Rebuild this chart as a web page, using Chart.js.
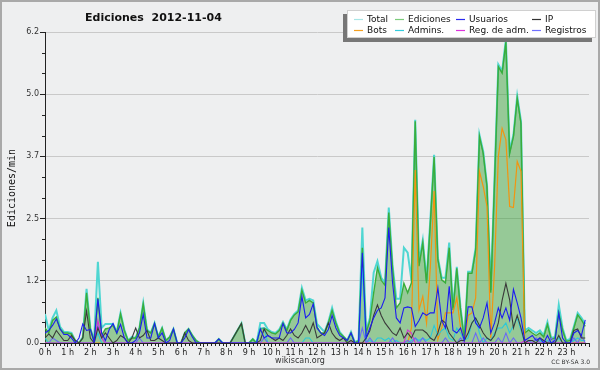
<!DOCTYPE html>
<html>
<head>
<meta charset="utf-8">
<script src="https://cdn.jsdelivr.net/npm/chart.js@4.4.1/dist/chart.umd.min.js"></script>
<style>
  html, body { margin: 0; padding: 0; background: #eeeff0; }
  #wrap { width: 600px; height: 370px; box-sizing: border-box; border: 2px solid #a9a9a9; background: #eeeff0; }
  canvas { display: block; }
</style>
</head>
<body>
<div id="wrap"><canvas id="c" width="596" height="366"></canvas></div>
<script>
// ---- data (edits per minute, 10-minute slots, 6 per hour) ----
const HOUR_LABELS = ['0 h','1 h','2 h','3 h','4 h','5 h','6 h','7 h','8 h','9 h','10 h','11 h',
  '12 h','13 h','14 h','15 h','16 h','17 h','18 h','19 h','20 h','21 h','22 h','23 h'];
const Y_TICKS = [0, 1.24, 2.48, 3.72, 4.96, 6.2];

const TOTAL = [
  0.58,0.25,0.50,0.65,0.32,0.22, 0.22,0.20,0.05,0.00,0.12,1.08,
  0.30,0.06,1.62,0.30,0.38,0.38, 0.38,0.22,0.60,0.27,0.05,0.12,
  0.10,0.30,0.80,0.27,0.20,0.40, 0.12,0.30,0.05,0.12,0.28,0.00,
  0.00,0.20,0.28,0.15,0.05,0.00, 0.00,0.00,0.00,0.00,0.08,0.00,
  0.00,0.00,0.13,0.26,0.39,0.00, 0.00,0.08,0.00,0.40,0.40,0.27,
  0.22,0.20,0.27,0.42,0.27,0.47, 0.58,0.65,1.10,0.85,0.88,0.85,
  0.38,0.30,0.22,0.42,0.70,0.42, 0.22,0.13,0.05,0.22,0.02,0.05,
  2.30,0.25,0.50,1.40,1.63,1.30, 1.20,2.70,1.55,0.88,0.88,1.90,
  1.80,1.25,4.45,1.60,2.05,1.25, 2.45,3.75,1.70,1.30,1.30,2.00,
  0.70,1.52,0.70,0.10,1.42,1.42, 1.90,4.15,3.82,3.15,1.05,3.30,
  5.55,5.42,6.05,3.82,4.15,4.92, 4.42,0.25,0.30,0.25,0.20,0.25,
  0.15,0.42,0.10,0.12,0.76,0.30, 0.05,0.08,0.33,0.60,0.50,0.38
];
const EDICIONES = [
  0.30,0.20,0.45,0.52,0.28,0.20, 0.20,0.18,0.05,0.00,0.10,1.00,
  0.28,0.05,0.90,0.15,0.28,0.30, 0.35,0.20,0.58,0.25,0.05,0.10,
  0.10,0.30,0.78,0.25,0.20,0.39, 0.12,0.30,0.05,0.12,0.28,0.00,
  0.00,0.20,0.28,0.15,0.05,0.00, 0.00,0.00,0.00,0.00,0.08,0.00,
  0.00,0.00,0.13,0.26,0.39,0.00, 0.00,0.08,0.00,0.28,0.30,0.25,
  0.20,0.18,0.25,0.40,0.25,0.45, 0.56,0.62,1.05,0.80,0.85,0.80,
  0.32,0.20,0.20,0.40,0.65,0.40, 0.20,0.13,0.05,0.20,0.00,0.05,
  1.90,0.20,0.45,1.00,1.50,1.25, 1.15,2.60,1.50,0.70,0.80,1.19,
  1.00,1.20,4.42,1.53,2.00,1.19, 2.40,3.71,1.66,1.26,1.20,1.90,
  0.66,1.49,0.66,0.07,1.39,1.39, 1.85,4.12,3.78,3.12,1.00,3.25,
  5.51,5.38,6.00,3.78,4.12,4.88, 4.38,0.20,0.26,0.20,0.15,0.20,
  0.12,0.37,0.07,0.10,0.60,0.26, 0.03,0.05,0.30,0.56,0.46,0.33
];
const USUARIOS = [
  0.20,0.25,0.35,0.48,0.28,0.17, 0.17,0.10,0.00,0.10,0.38,0.25,
  0.27,0.02,0.88,0.20,0.05,0.27, 0.39,0.20,0.37,0.10,0.00,0.00,
  0.05,0.20,0.57,0.10,0.10,0.39, 0.10,0.20,0.00,0.05,0.28,0.00,
  0.00,0.10,0.27,0.12,0.00,0.00, 0.00,0.00,0.00,0.00,0.08,0.00,
  0.00,0.00,0.00,0.00,0.00,0.00, 0.00,0.00,0.00,0.28,0.10,0.15,
  0.10,0.10,0.10,0.39,0.20,0.20, 0.27,0.40,0.93,0.50,0.57,0.78,
  0.30,0.20,0.15,0.27,0.55,0.30, 0.15,0.10,0.05,0.20,0.00,0.00,
  1.80,0.10,0.30,0.50,0.65,0.70, 0.90,2.30,1.20,0.50,0.40,0.70,
  0.72,0.70,0.33,0.45,0.60,0.55, 0.60,0.60,1.10,0.45,0.30,1.13,
  0.25,0.20,0.30,0.05,0.72,0.72, 0.40,0.30,0.50,0.80,0.20,0.40,
  0.70,0.50,0.70,0.45,1.07,0.80, 0.50,0.05,0.10,0.15,0.05,0.10,
  0.00,0.15,0.00,0.05,0.60,0.10, 0.00,0.00,0.20,0.25,0.15,0.46
];
const IP = [
  0.10,0.18,0.10,0.25,0.15,0.05, 0.05,0.15,0.05,0.00,0.10,0.64,
  0.10,0.00,0.30,0.10,0.20,0.10, 0.00,0.05,0.15,0.10,0.00,0.10,
  0.30,0.10,0.15,0.25,0.05,0.05, 0.10,0.05,0.00,0.00,0.00,0.00,
  0.00,0.20,0.05,0.00,0.00,0.00, 0.00,0.00,0.00,0.00,0.00,0.00,
  0.00,0.00,0.13,0.26,0.39,0.00, 0.00,0.00,0.00,0.05,0.28,0.15,
  0.10,0.05,0.10,0.05,0.15,0.28, 0.15,0.10,0.20,0.35,0.20,0.40,
  0.10,0.15,0.20,0.40,0.20,0.10, 0.05,0.10,0.00,0.05,0.00,0.00,
  0.00,0.10,0.25,0.55,0.76,0.55, 0.40,0.30,0.20,0.15,0.30,0.10,
  0.20,0.10,0.26,0.26,0.26,0.20, 0.10,0.05,0.20,0.46,0.40,0.20,
  0.10,0.00,0.05,0.05,0.20,0.40, 0.50,0.35,0.20,0.10,0.05,0.15,
  0.40,0.85,1.19,0.86,0.30,0.55, 0.30,0.00,0.05,0.05,0.00,0.10,
  0.05,0.00,0.00,0.00,0.15,0.00, 0.00,0.00,0.25,0.28,0.10,0.10
];
const BOTS = [
  0,0,0,0,0,0, 0,0,0,0,0,0, 0,0,0,0,0,0, 0,0,0,0,0,0,
  0,0,0,0,0,0, 0,0,0,0,0,0, 0,0,0,0,0,0, 0,0,0,0,0,0,
  0,0,0,0,0,0, 0,0,0,0,0,0, 0,0,0,0,0,0, 0,0,0,0,0,0,
  0,0,0,0,0,0, 0,0,0,0,0,0, 0,0,0,0,0,0, 0,0,0,0,0,0,
  0.00,0.30,3.45,0.66,0.93,0.40, 1.50,3.03,0.07,0.30,0.60,0.60,
  0.60,0.90,0.30,0.00,0.55,0.60, 0.90,3.42,3.12,2.72,0.10,1.50,
  3.72,4.28,4.05,2.72,2.70,3.62, 3.42,0.00,0,0,0,0,
  0,0,0,0,0,0, 0,0,0,0,0,0
];
const ADMINS = [
  0.10,0,0,0,0,0, 0,0,0,0,0,0, 0,0,0.20,0,0,0, 0,0,0,0,0,0,
  0,0,0,0,0,0, 0,0,0,0,0,0, 0,0,0,0,0,0, 0,0,0,0,0,0,
  0,0,0,0,0,0, 0,0,0,0.30,0.30,0, 0,0,0,0,0,0, 0,0,0,0.10,0.10,0,
  0,0,0,0,0,0, 0,0,0,0,0,0,
  1.50,0.00,0.05,0.00,0.10,0.10, 0.05,0.10,0.00,0.05,0.00,0.00,
  0.00,0.05,0.10,0.05,0.10,0.05, 0.10,0.35,0.15,0.25,0.30,0.10,
  0.05,0.30,0.20,0.05,0.10,0.40, 0.50,0.20,0.00,0.10,0.05,0.20,
  0.30,0.30,0.40,0.20,0.35,0.50, 0.25,0.00,0.05,0.00,0.00,0.05,
  0.00,0.05,0.00,0.00,0.10,0.00, 0.00,0.00,0.05,0.10,0.05,0.05
];
const REG_ADM = [
  0,0,0,0,0,0, 0,0,0,0,0,0, 0,0,0.45,0.10,0,0, 0,0,0,0,0,0,
  0,0,0,0,0,0, 0,0,0,0,0,0, 0,0,0,0,0,0, 0,0,0,0,0,0,
  0,0,0,0,0,0, 0,0,0,0,0,0, 0,0,0,0,0,0, 0,0,0,0,0,0,
  0,0,0,0,0,0, 0,0,0,0,0,0, 0,0,0,0,0,0, 0,0,0,0,0,0,
  0.26,0.20,0,0,0,0, 0,0,0,0,0,0, 0,0,0,0,0,0, 0,0,0,0,0,0,
  0,0,0,0,0,0, 0,0.05,0,0,0,0, 0,0,0,0,0,0, 0,0,0,0,0,0
];
const REGISTROS = [
  0,0,0.10,0.05,0,0, 0,0,0,0,0,0, 0,0,0.35,0.10,0,0, 0,0,0,0,0,0,
  0,0.10,0,0,0,0, 0,0,0,0,0,0, 0,0,0,0,0,0, 0,0,0,0,0,0,
  0,0,0,0,0,0, 0,0,0,0,0.10,0, 0,0,0,0,0,0.10, 0,0,0,0,0,0,
  0,0,0,0,0,0, 0,0,0,0,0,0,
  0.30,0,0.10,0,0,0, 0,0,0.10,0,0,0, 0.05,0,0.10,0,0.10,0, 0,0,0,0,0.10,0,
  0,0,0.10,0,0,0, 0.20,0,0.10,0,0,0, 0.10,0,0.20,0,0.10,0, 0,0,0.05,0,0.10,0,
  0,0,0.10,0,0,0, 0,0,0.10,0,0.15,0
];

// ---- chart ----
const slotX = TOTAL.map((_, i) => i / 6);           // slot position in hours
const pts = arr => arr.map((v, i) => ({ x: slotX[i], y: v }));

const series = [
  { label: 'Total',        data: TOTAL,     color: '#4fd6d2', legend: '#a8e6e6', width: 2.0, order: 9 },
  { label: 'Ediciones',    data: EDICIONES, color: '#3aad3a', legend: '#7ccc7c', width: 1.4, order: 8, fill: 'rgba(50,160,50,0.47)' },
  { label: 'Usuarios',     data: USUARIOS,  color: '#1c1cf0', legend: '#2a2af0', width: 1.1, order: 1 },
  { label: 'IP',           data: IP,        color: '#3a3a3a', legend: '#333333', width: 1.1, order: 2 },
  { label: 'Bots',         data: BOTS,      color: '#f29410', legend: '#f5a020', width: 1.2, order: 7 },
  { label: 'Admins.',      data: ADMINS,    color: '#2cc8d8', legend: '#33ccdd', width: 1.1, order: 6 },
  { label: 'Reg. de adm.', data: REG_ADM,   color: '#d335d3', legend: '#dd33dd', width: 1.1, order: 4 },
  { label: 'Registros',    data: REGISTROS, color: '#6a6af5', legend: '#7070ff', width: 1.1, order: 5 }
];

const FONT = 'DejaVu Sans';

const decor = {
  id: 'decor',
  afterDraw(chart) {
    const ctx = chart.ctx;
    const xs = chart.scales.x, ys = chart.scales.y;
    ctx.save();
    // minor ticks
    ctx.strokeStyle = '#222';
    ctx.lineWidth = 1;
    ctx.beginPath();
    for (let k = 0; k <= 144; k++) {
      if (k % 6 === 0) continue;
      const px = Math.round(xs.getPixelForValue(k / 6)) + 0.5;
      ctx.moveTo(px, ys.bottom); ctx.lineTo(px, ys.bottom + 3);
    }
    for (let k = 0; k <= 15; k++) {
      if (k % 3 === 0) continue;
      const py = Math.round(ys.getPixelForValue(k * 1.24 / 3)) + 0.5;
      ctx.moveTo(xs.left - 3, py); ctx.lineTo(xs.left, py);
    }
    ctx.stroke();

    // title
    ctx.fillStyle = '#111';
    ctx.font = 'bold 11px "' + FONT + '"';
    ctx.textBaseline = 'middle';
    ctx.textAlign = 'left';
    ctx.fillText('Ediciones  2012-11-04', 83, 16);

    // y axis title
    ctx.save();
    ctx.translate(10, 186);
    ctx.rotate(-Math.PI / 2);
    ctx.font = '10px "DejaVu Sans Mono"';
    ctx.textAlign = 'center';
    ctx.fillText('Ediciones/min', 0, 0);
    ctx.restore();

    // footer
    ctx.fillStyle = '#333';
    ctx.font = '8px "' + FONT + '"';
    ctx.textAlign = 'center';
    ctx.fillText('wikiscan.org', 298, 359);
    ctx.font = '6px "' + FONT + '"';
    ctx.textAlign = 'right';
    ctx.fillText('CC BY-SA 3.0', 588, 360);

    // legend box with shadow
    const bx = 345, by = 8, bw = 249, bh = 28;
    ctx.fillStyle = '#777777';
    ctx.fillRect(bx - 4, by + 4, bw, bh);
    ctx.fillStyle = '#ffffff';
    ctx.fillRect(bx, by, bw, bh);
    ctx.strokeStyle = '#d0d0d0';
    ctx.strokeRect(bx + 0.5, by + 0.5, bw - 1, bh - 1);
    const colX = [365, 406, 467, 543];
    const rowY = [17, 28];
    ctx.font = '9px "' + FONT + '"';
    ctx.textAlign = 'left';
    series.forEach((s, i) => {
      const cx = colX[i % 4], cy = rowY[Math.floor(i / 4)];
      ctx.strokeStyle = s.legend;
      ctx.lineWidth = 1.2;
      ctx.beginPath();
      ctx.moveTo(cx - 13, cy + 0.5); ctx.lineTo(cx - 4, cy + 0.5);
      ctx.stroke();
      ctx.fillStyle = '#111';
      ctx.fillText(s.label, cx, cy + 0.5);
    });
    ctx.restore();
  }
};

new Chart(document.getElementById('c'), {
  type: 'line',
  data: {
    datasets: series.map(s => ({
      label: s.label,
      data: pts(s.data),
      borderColor: s.color,
      backgroundColor: s.fill || s.color,
      borderWidth: s.width,
      fill: s.fill ? 'origin' : false,
      pointRadius: 0,
      tension: 0,
      order: s.order
    }))
  },
  options: {
    responsive: false,
    animation: false,
    devicePixelRatio: 1,
    layout: { padding: { top: 30, right: 9, left: 0, bottom: 0 } },
    plugins: { legend: { display: false }, title: { display: false }, tooltip: { enabled: false } },
    scales: {
      x: {
        type: 'linear', min: 0, max: 24,
        afterFit(s) { s.height = 25; },
        afterBuildTicks(s) { s.ticks = HOUR_LABELS.map((_, h) => ({ value: h })).concat([{ value: 24 }]); },
        ticks: {
          autoSkip: false, maxRotation: 0, padding: 1,
          font: { family: FONT, size: 8 }, color: '#222',
          callback: v => HOUR_LABELS[v] || ''
        },
        grid: { drawOnChartArea: false, tickLength: 4, tickColor: '#222' },
        border: { color: '#222' }
      },
      y: {
        min: 0, max: 6.2,
        afterFit(s) { s.width = 43; },
        afterBuildTicks(s) { s.ticks = Y_TICKS.map(v => ({ value: v })); },
        ticks: {
          padding: 1,
          font: { family: FONT, size: 8 }, color: '#333',
          callback: v => Number(v).toFixed(1)
        },
        grid: { color: '#c9c9c9', tickLength: 5, tickColor: '#222' },
        border: { color: '#222' }
      }
    }
  },
  plugins: [decor]
});
</script>
</body>
</html>
